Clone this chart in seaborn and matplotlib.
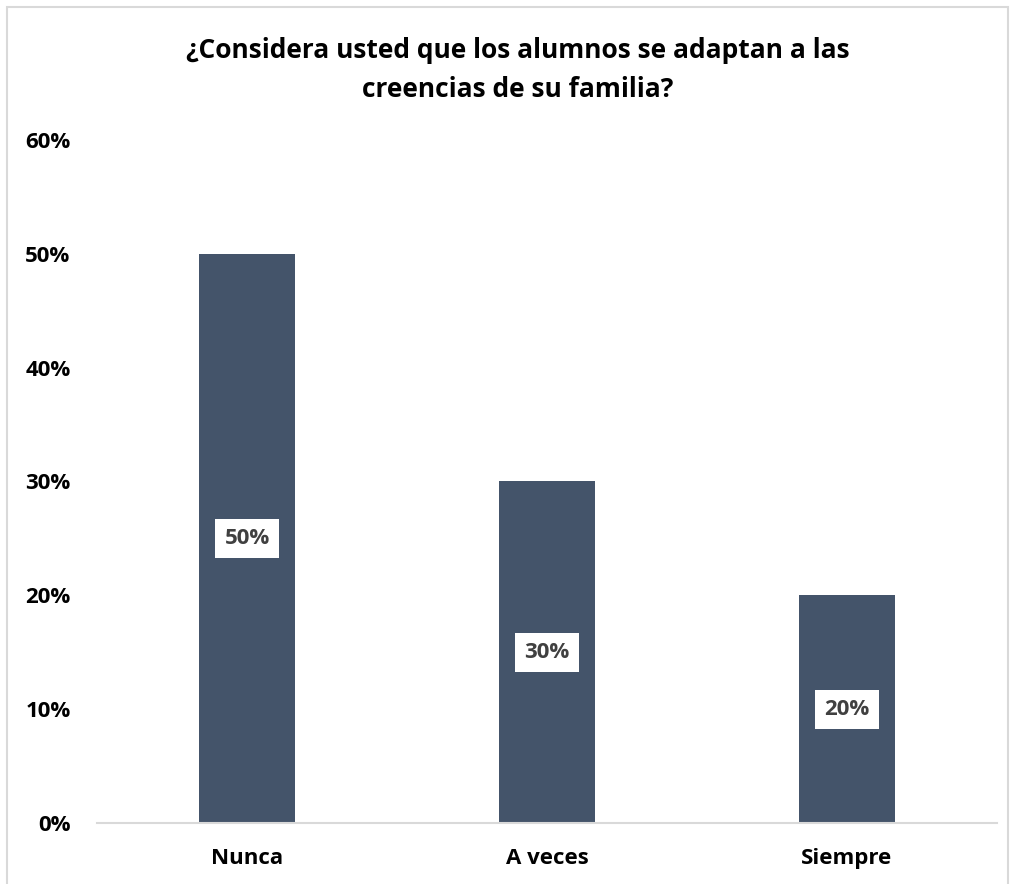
import matplotlib
matplotlib.use("Agg")
import matplotlib.pyplot as plt
import matplotlib.patches as mpatches
import seaborn as sns
import pandas as pd

categories = ["Nunca", "A veces", "Siempre"]
values = [0.50, 0.30, 0.20]
yticks = [0, 0.1, 0.2, 0.3, 0.4, 0.5, 0.6]
ytick_labels = ["0%", "10%", "20%", "30%", "40%", "50%", "60%"]
title = "¿Considera usted que los alumnos se adaptan a las\ncreencias de su familia?"

sns.set_style("white")
plt.rcParams["font.family"] = ["Open Sans", "DejaVu Sans"]

bar_color = "#44546A"
df = pd.DataFrame({"cat": categories, "val": values})

W, H = 1015, 884
fig = plt.figure(figsize=(W / 100, H / 100), dpi=100)
ax = fig.add_axes([97 / W, 1 - 823 / H, 900 / W, (823 - 140) / H])

sns.barplot(data=df, x="cat", y="val", color=bar_color, width=0.32,
            saturation=1, ax=ax, edgecolor="none")

ax.set_ylim(0, 0.6)
ax.set_xlim(-0.5, 2.5)
ax.set_yticks(yticks)
ax.set_yticklabels(ytick_labels, fontsize=16, fontweight="bold", color="#000000")
ax.tick_params(axis="y", length=0, pad=19)
ax.tick_params(axis="x", length=0, pad=18)
for lab in ax.get_xticklabels():
    lab.set_fontsize(16)
    lab.set_fontweight("bold")
    lab.set_color("#000000")
ax.set_xlabel("")
ax.set_ylabel("")
ax.grid(False)
for side in ["left", "right", "top"]:
    ax.spines[side].set_visible(False)
ax.spines["bottom"].set_color("#D9D9D9")
ax.spines["bottom"].set_linewidth(1.5)

for i, v in enumerate(values):
    ax.text(i, v / 2, f"{v:.0%}", ha="center", va="center", fontsize=16,
            fontweight="bold", color="#404040",
            bbox=dict(boxstyle="square,pad=0.4", facecolor="white", edgecolor="none"))

fig.text(518 / W, 1 - 70 / H, title, ha="center", va="center", fontsize=19,
         fontweight="bold", color="#000000", linespacing=1.55)

# thin frame around the chart area
fig.patches.append(mpatches.Rectangle((7 / W, -0.01), (1008 - 7) / W, 1 - 7 / H + 0.01,
                                      transform=fig.transFigure, fill=False,
                                      edgecolor="#D9D9D9", linewidth=1.5))

fig.savefig("out.png", dpi=100, facecolor="white")
